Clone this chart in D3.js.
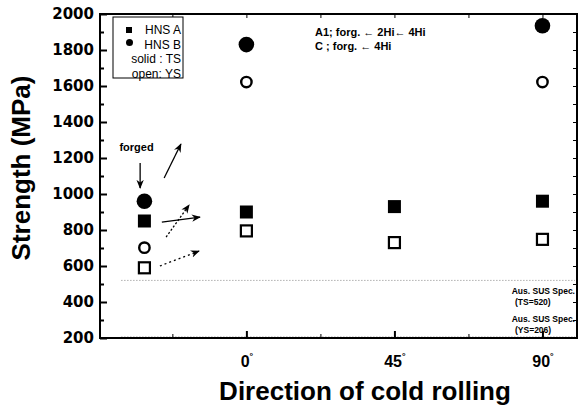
<!DOCTYPE html>
<html>
<head>
<meta charset="utf-8">
<script src="https://cdn.jsdelivr.net/npm/d3@7"></script>
<style>
  body { margin: 0; background: #fff; }
  svg { display: block; }
</style>
</head>
<body>
<div id="chart"></div>
<script>
// x slot for each column (forged sits left of 0 deg)
const dirSlots = [-31, 0, 45, 90];
const dirLabels = ["forged", "0", "45", "90"];
// HNS A (squares), HNS B (circles); TS solid, YS open
const hnsA_TS = [850, 900, 930, 960];
const hnsA_YS = [590, 795, 730, 748];
const hnsB_TS = [960, 1830, null, 1935];
const hnsB_YS = [702, 1622, null, 1622];
const yMajor = [200, 400, 600, 800, 1000, 1200, 1400, 1600, 1800, 2000];
const xMajor = [0, 45, 90];
const xMinor = [-22.5, 22.5, 67.5];
const specTS = 520, specYS = 206;

const W = 581, H = 407;
const margin = {top: 14, right: 4, bottom: 69, left: 100};
const width = W - margin.left - margin.right,
      height = H - margin.top - margin.bottom;

const svg = d3.select("#chart").append("svg")
  .attr("width", W).attr("height", H)
  .append("g")
  .attr("transform", `translate(${margin.left}, ${margin.top})`);

const x = d3.scaleLinear().domain([-44.5, 100.5]).range([0, width]);
const y = d3.scaleLinear().domain([200, 2000]).range([height, 0]);

// arrow head
svg.append("defs").append("marker")
  .attr("id", "ah").attr("viewBox", "0 0 10 10")
  .attr("refX", 9).attr("refY", 5)
  .attr("markerWidth", 7).attr("markerHeight", 7)
  .attr("orient", "auto")
  .append("path").attr("d", "M0,1 L10,5 L0,9 L3,5 Z").attr("fill", "#000");

// spec reference lines (dotted)
[specTS, specYS].forEach(v => {
  svg.append("line")
    .attr("x1", x(-38)).attr("x2", width - 2)
    .attr("y1", y(v)).attr("y2", y(v))
    .attr("stroke", "#888").attr("stroke-width", 1)
    .attr("stroke-dasharray", "1,2");
});

// frame
svg.append("rect")
  .attr("width", width).attr("height", height)
  .attr("fill", "none").attr("stroke", "#000").attr("stroke-width", 2);

// y axis
const yAx = svg.append("g")
  .call(d3.axisLeft(y).tickValues(yMajor).tickSize(-7).tickPadding(6).tickFormat(d3.format("d")));
yAx.select(".domain").remove();
yAx.selectAll("line").attr("stroke-width", 2);
yAx.selectAll("text")
  .style("font-family", "'DejaVu Sans'").style("font-weight", "bold").style("font-size", "15px");
const yMin = svg.append("g")
  .call(d3.axisLeft(y).tickValues(d3.range(300, 2000, 200)).tickSize(-4).tickFormat(""));
yMin.select(".domain").remove();
yMin.selectAll("line").attr("stroke-width", 2);
// right side ticks
const yR = svg.append("g").attr("transform", `translate(${width},0)`)
  .call(d3.axisRight(y).ticks(18).tickSize(-4).tickFormat(""));
yR.select(".domain").remove();

// x axis
const xAx = svg.append("g").attr("transform", `translate(0, ${height})`)
  .call(d3.axisBottom(x).tickValues(xMajor).tickSize(-7).tickPadding(14).tickFormat(""));
xAx.select(".domain").remove();
xAx.selectAll("line").attr("stroke-width", 2);
xAx.selectAll(".tick").append("text")
  .attr("y", 29).attr("fill", "#000").attr("text-anchor", "middle")
  .style("font-family", "'Liberation Sans', Arial").style("font-weight", "bold").style("font-size", "16px")
  .each(function(d) {
    const t = d3.select(this);
    t.append("tspan").text(d);
    t.append("tspan").attr("dy", -8).style("font-size", "9px").text("°");
  });
const xMin = svg.append("g").attr("transform", `translate(0, ${height})`)
  .call(d3.axisBottom(x).tickValues(xMinor).tickSize(-4).tickFormat(""));
xMin.select(".domain").remove();
const xTop = svg.append("g")
  .call(d3.axisTop(x).tickValues(xMajor.concat(xMinor)).tickSize(-4).tickFormat(""));
xTop.select(".domain").remove();

// axis titles
svg.append("text")
  .attr("transform", `translate(${-70}, ${height / 2 - 8}) rotate(-90)`)
  .attr("text-anchor", "middle")
  .style("font-family", "'Liberation Sans', Arial").style("font-weight", "bold").style("font-size", "26px")
  .text("Strength (MPa)");
svg.append("text")
  .attr("x", 265).attr("y", height + 62)
  .attr("text-anchor", "middle")
  .style("font-family", "'Liberation Sans', Arial").style("font-weight", "bold").style("font-size", "26px")
  .text("Direction of cold rolling");

// data marks
function squares(vals, solid, s) {
  svg.append("g").selectAll("rect")
    .data(vals.map((v, i) => ({x: dirSlots[i], v})).filter(d => d.v != null))
    .join("rect")
    .attr("x", d => x(d.x) - s / 2).attr("y", d => y(d.v) - s / 2)
    .attr("width", s).attr("height", s)
    .attr("fill", solid ? "#000" : "#fff")
    .attr("stroke", "#000").attr("stroke-width", solid ? 0 : 2.2);
}
function circles(vals, solid, r) {
  svg.append("g").selectAll("circle")
    .data(vals.map((v, i) => ({x: dirSlots[i], v})).filter(d => d.v != null))
    .join("circle")
    .attr("cx", d => x(d.x)).attr("cy", d => y(d.v)).attr("r", r)
    .attr("fill", solid ? "#000" : "#fff")
    .attr("stroke", "#000").attr("stroke-width", solid ? 0 : 2.4);
}
squares(hnsA_TS, true, 13);
squares(hnsA_YS, false, 11);
circles(hnsB_TS, true, 7.8);
circles(hnsB_YS, false, 5.2);

// legend
const lg = svg.append("g").attr("transform", "translate(13, 3)");
lg.append("rect").attr("width", 70).attr("height", 61)
  .attr("fill", "#fff").attr("stroke", "#000").attr("stroke-width", 1);
lg.append("rect").attr("x", 13).attr("y", 10).attr("width", 6).attr("height", 6);
lg.append("circle").attr("cx", 16.5).attr("cy", 25.5).attr("r", 3.5);
const legTxt = ["HNS A", "HNS B", "solid : TS", "open: YS"];
lg.selectAll("text.l").data(legTxt).join("text")
  .attr("x", 68).attr("y", (d, i) => 17 + i * 14.5)
  .attr("text-anchor", "end")
  .style("font-family", "'Liberation Sans', Arial").style("font-size", "12px")
  .text(d => d);

// process annotation
const ann = svg.append("g")
  .style("font-family", "'Liberation Sans', Arial").style("font-weight", "bold").style("font-size", "11px");
ann.append("text").attr("x", 215).attr("y", 22).text("A1; forg. \u2190 2Hi\u2190 4Hi");
ann.append("text").attr("x", 215).attr("y", 36).text("C ; forg.  \u2190 4Hi");

// forged label and arrows (data coordinates)
svg.append("text")
  .attr("x", x(-33.4)).attr("y", y(1239)).attr("text-anchor", "middle")
  .style("font-family", "'Liberation Sans', Arial").style("font-weight", "bold").style("font-size", "11px")
  .text("forged");
const arrows = [
  {a: [-32.3, 1172], b: [-32.3, 1033], dash: null},
  {a: [-25.0, 1089], b: [-19.9, 1278], dash: null},
  {a: [-25.7, 844], b: [-14.1, 872], dash: null},
  {a: [-24.4, 761], b: [-17.4, 939], dash: "2,2"},
  {a: [-26.3, 600], b: [-14.4, 683], dash: "2,3"}
];
svg.append("g").selectAll("line").data(arrows).join("line")
  .attr("x1", d => x(d.a[0])).attr("y1", d => y(d.a[1]))
  .attr("x2", d => x(d.b[0])).attr("y2", d => y(d.b[1]))
  .attr("stroke", "#000").attr("stroke-width", 1.3)
  .attr("stroke-dasharray", d => d.dash)
  .attr("marker-end", "url(#ah)");

// spec labels
const sp = svg.append("g")
  .style("font-family", "'Liberation Sans', Arial").style("font-weight", "bold").style("font-size", "8.5px");
sp.append("text").attr("x", width - 2).attr("y", y(specTS) + 14).attr("text-anchor", "end").text("Aus. SUS Spec.");
sp.append("text").attr("x", width - 62).attr("y", y(specTS) + 25).text("(TS=520)");
sp.append("text").attr("x", width - 2).attr("y", y(specYS) - 15).attr("text-anchor", "end").text("Aus. SUS Spec.");
sp.append("text").attr("x", width - 62).attr("y", y(specYS) - 4).text("(YS=206)");
</script>
</body>
</html>
